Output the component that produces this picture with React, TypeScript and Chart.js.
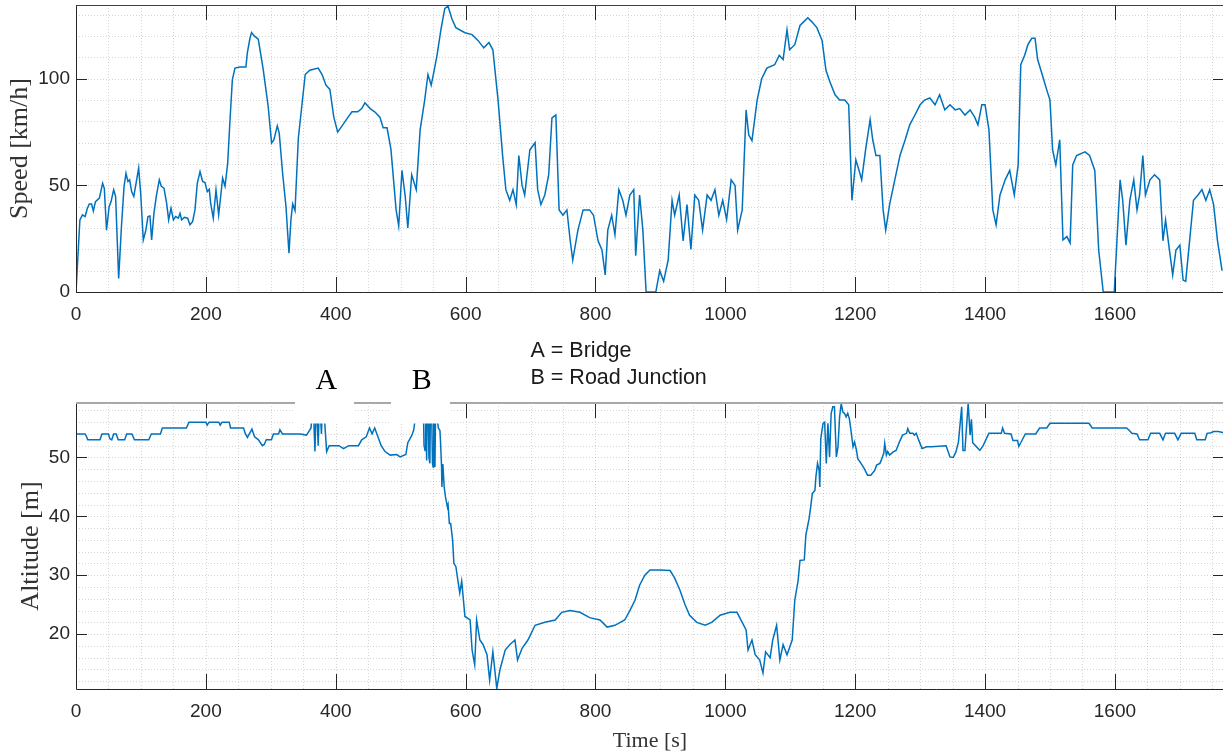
import React, { useEffect, useRef } from "react";
import { Chart, registerables } from "chart.js";
Chart.register(...registerables);

// ---------- data ----------
const speedTime = [
  0, 6, 10, 14, 17.5, 20.5, 24, 26.7, 30, 36, 41, 43.6, 47, 51, 54, 58, 61, 65.7, 70, 74, 77, 80, 82.6, 85.7, 89,
  93.4, 96.5, 99.6, 103.6, 107.7, 110.8, 113.9, 116.5, 120, 124, 128.3, 131.4, 135.5, 139.6, 142.7, 146.3, 150,
  153.5, 157.6, 160.2, 162.7, 166.8, 172, 175.5, 179.6, 183.2, 186.8, 191, 195, 198.6, 202.2, 205.3, 207.4, 211.4,
  215.6, 219.7, 222.8, 225.8, 229.5, 233.6, 237.2, 240.8, 244.8, 252.5, 261.7, 263.8, 267.9, 270.4, 274.5, 280.7,
  288.4, 296, 301.2, 304.8, 310, 313, 318.2, 323.4, 328, 331, 333.7, 337.3, 342.4, 353, 360, 373, 379, 385, 391,
  397, 403, 410, 419, 425, 434, 440, 445, 453, 460, 468, 473, 479, 485, 493, 497, 502, 507, 511, 517, 524, 530,
  537, 542, 547, 551, 556, 562, 568, 573, 579, 585, 599, 610, 619, 628, 636, 642, 650, 657, 662, 668, 673, 678,
  682, 687, 691, 699, 707, 711, 716, 722, 728, 733, 739, 744, 750, 756, 761, 765, 773, 781, 791, 797, 804, 810,
  815, 819, 825, 830, 836, 842, 847, 853, 859, 862, 868, 873, 878, 893, 899, 905, 912, 918, 922, 929, 935, 941,
  947, 953, 959, 965, 972, 978, 984, 990, 996, 1002, 1009, 1015, 1019, 1026, 1032, 1036, 1041, 1049, 1056, 1064,
  1076, 1083, 1089, 1095, 1099, 1107, 1115, 1121, 1127, 1133, 1141, 1149, 1155, 1161, 1169, 1176, 1184, 1190,
  1195, 1201, 1206, 1210, 1216, 1223, 1227, 1232, 1238, 1243, 1247, 1253, 1261, 1269, 1277, 1284, 1292, 1300,
  1307, 1315, 1323, 1330, 1338, 1346, 1354, 1361, 1369, 1377, 1384, 1389, 1395, 1400, 1406, 1412, 1417, 1423,
  1431, 1438, 1445, 1451, 1455, 1461, 1466, 1472, 1477, 1481, 1488, 1495, 1500, 1504, 1509, 1515, 1520, 1526,
  1531, 1535, 1541, 1554, 1561, 1569, 1575, 1582, 1599, 1608, 1612, 1617, 1623, 1629, 1634, 1638, 1643, 1647,
  1654, 1661, 1669, 1674, 1678, 1683, 1689, 1694, 1700, 1705, 1709, 1715, 1721, 1728, 1734, 1740, 1746, 1752,
  1758, 1765,
];
const speedKmh = [
  0, 33.8, 36.2, 35.4, 39.3, 41.3, 41.3, 38, 42.4, 44, 51, 48.6, 29, 40, 42.4, 47.9, 44.8, 6.4, 30.7, 49.4, 55.7,
  51.8, 52.6, 47.1, 44.8, 52.6, 58.1, 46.3, 24.4, 29.1, 35.4, 35.7, 24.4, 36.9, 45.5, 52.6, 49.6, 48.7, 41.6, 33.8,
  39.3, 33.8, 35.4, 34.6, 36.9, 33.8, 35, 34.6, 31.5, 33, 38.5, 51, 56.5, 51.8, 51.3, 47.1, 48.2, 41.6, 34.6, 47.9,
  36.2, 44.8, 53.4, 49.6, 60.4, 80.8, 99.5, 105, 105.5, 105.5, 112, 119, 121.7, 120.1, 118.6, 104.2, 87, 69.8,
  71.4, 77.9, 74.5, 55.7, 40, 18.2, 33.8, 41.3, 38.2, 72.1, 102, 104, 105, 102, 97, 95, 82, 75, 78, 82, 84.5, 84.5,
  86, 88.7, 86, 84.5, 82, 77, 77, 67, 38.5, 31, 57, 45, 30, 55, 48, 76, 90, 102, 97, 103, 111, 123, 133, 134, 128,
  124, 121.6, 120.7, 118, 114.5, 117, 113.6, 90, 64, 48, 43, 48, 41, 64, 50, 45.5, 66.7, 70, 48, 41, 45.5, 55, 81.7,
  83, 38.5, 36, 38.5, 24.4, 15, 29, 38.5, 38.5, 36, 24, 19.7, 8, 29, 36, 26.8, 48, 43, 36, 45.5, 48, 17, 45.5, 29,
  0, 0, 10, 5, 15, 43, 36, 45.5, 24, 41, 20, 45.5, 43, 29, 45.5, 43, 48, 36, 43, 34, 52.6, 50, 29, 38.5, 85.4, 73.7,
  71, 90, 100, 105, 106.6, 111, 109, 123, 113.6, 116, 125, 126.8, 128.6, 126.8, 124, 118, 104, 98.6, 92.5, 90, 90,
  87.8, 43, 62, 57, 52.6, 66.7, 80.8, 71.4, 64, 64, 38.5, 29, 41, 52.6, 64, 71.4, 78.4, 83, 87.8, 90, 91, 87.8,
  92.5, 85.4, 87.8, 85.4, 86, 83, 85.4, 82, 78.4, 87.8, 87.8, 76, 38.5, 31.5, 45.5, 52.6, 57, 45.5, 59.6, 106.6,
  111, 116, 119, 119, 109, 102, 94.8, 90, 66.7, 59.6, 71.4, 24.4, 26, 23, 59.6, 64, 65.7, 64, 57, 19.7, 0, 0, 52.6,
  43, 22, 43, 52.6, 38.5, 45.5, 64, 45.5, 52.6, 55, 52.6, 24, 33.8, 22, 8, 19.7, 22, 5.6, 5, 24, 43, 45.5, 48, 43,
  48, 41, 24, 10,
];

const altTime = [
  0, 14, 16, 18, 37, 40, 50, 52, 55, 58, 62, 65, 75, 78, 86, 90, 112, 116, 130, 133, 170, 174, 200, 202, 205, 220,
  222, 225, 236, 238, 258, 261, 264, 268, 271, 275, 281, 287, 290, 293, 301, 304, 312, 314, 318, 338, 345, 355,
  362, 365, 368, 370, 373, 375, 378, 380, 383, 386, 390, 405, 412, 420, 435, 440, 447, 452, 456, 460, 465, 470,
  476, 484, 494, 499, 508, 511, 517, 520, 523, 527, 533, 535, 536, 537.6, 538.5, 540, 541, 542.5, 543.5, 545,
  546, 547.7, 549, 550, 551, 552.8, 554, 556, 558, 560.5, 561.5, 563, 563.5, 565, 567, 569, 572, 573, 575, 577,
  580, 582, 585, 588, 591, 594, 599, 607, 610, 614, 617, 622, 627, 633, 637, 642, 648, 653, 661, 668, 676, 680,
  687, 696, 707, 722, 738, 748, 761, 776, 791, 807, 818, 830, 845, 853, 861, 868, 876, 884, 899, 915, 922, 930,
  938, 945, 956, 969, 979, 992, 1007, 1018, 1026, 1032, 1035, 1041, 1046, 1053, 1058, 1062, 1069, 1073, 1079,
  1084, 1089, 1095, 1103, 1107, 1112, 1115, 1121.6, 1124, 1129, 1131.5, 1134, 1138, 1139.5, 1142, 1144.5,
  1145.5, 1147, 1150.5, 1153, 1155.5, 1158, 1160.5, 1163, 1165.5, 1168, 1171, 1173.5, 1176, 1178.5, 1181,
  1183.5, 1186, 1188.5, 1191, 1193.5, 1196.7, 1199, 1202, 1204, 1209, 1214, 1219, 1224, 1230, 1233, 1238, 1240,
  1244, 1245.5, 1248, 1250, 1253, 1258, 1263, 1268, 1273, 1279, 1281, 1284, 1289, 1291, 1294, 1298, 1303, 1310,
  1317, 1340, 1346, 1351, 1355, 1359, 1364, 1366, 1369, 1374, 1377, 1379, 1381, 1387, 1392, 1397, 1402, 1406,
  1425, 1427, 1430, 1440, 1443, 1450, 1452, 1455, 1462, 1478, 1484, 1495, 1500, 1560, 1565, 1618, 1623, 1626,
  1634, 1638, 1651, 1655, 1669, 1674, 1678, 1692, 1697, 1702, 1723, 1726, 1739, 1742, 1748, 1752, 1759, 1768,
];
const altM = [
  54, 54, 53.6, 53, 53, 54, 54, 53.2, 53, 54, 54, 53, 53, 54, 54, 53, 53, 54, 54, 55, 55, 56, 56, 55.5, 56, 56,
  55.5, 56, 56, 55, 55, 54, 53.4, 54.2, 54.8, 53.5, 53, 52, 52.2, 53, 53, 54, 54, 54.7, 54, 54, 54, 53.8, 55, 60,
  51, 60, 52, 60, 54, 60, 56, 51, 52, 52, 51.5, 52, 52, 53, 53.5, 55, 54, 55, 53.5, 52, 51, 50.4, 50.5, 50.1,
  50.5, 52.5, 53.7, 54.6, 57, 61, 61, 58, 52, 51.2, 60, 49.5, 60, 58, 50, 49, 60, 58, 49, 48.4, 58, 48.4, 60, 57,
  55, 54.6, 52.4, 48.4, 45, 48.9, 45, 43.3, 41.6, 42, 38.8, 38.8, 36, 32, 31.5, 29.2, 27, 29, 23, 22.4, 17.3,
  14.8, 22.4, 19, 18.2, 16.5, 12.2, 17, 10.8, 14, 17.3, 18.2, 19, 15.6, 17.6, 19, 21.5, 22, 22.4, 23.7, 24, 23.7,
  22.8, 22.4, 21.2, 21.5, 22.4, 24, 25.8, 28.3, 30, 30.9, 30.9, 30.8, 29.5, 27.5, 25, 23.2, 22, 21.5, 22, 23.2,
  23.7, 23.7, 22, 20.7, 17.3, 19, 16.5, 15.6, 13.4, 17, 16, 19, 21.5, 15.6, 18.2, 16.5, 19, 25.8, 29, 32.5, 32.6,
  36.8, 39.6, 41.6, 43.9, 44.4, 46.7, 49, 47.8, 45, 53.2, 55.8, 56, 49, 55.8, 50.1, 57.5, 58.6, 58.6, 50.1, 51.8,
  56.9, 59.2, 57.7, 57.5, 56.9, 57.5, 56.6, 54.6, 51.8, 52.6, 51.2, 49.8, 49, 48.1, 47, 47, 47.8, 48.7, 49, 49.5,
  50.7, 52.4, 50.4, 51, 50.4, 50.9, 51.2, 52.6, 53.8, 54.1, 54.9, 54.1, 54.1, 53.8, 54.1, 52.9, 51.5, 51.8, 51.8,
  52, 50.1, 50, 50.9, 52.6, 58.6, 51.2, 51.2, 59.2, 53.8, 56.5, 52.5, 51.8, 51.2, 52, 53.2, 54.1, 54.1, 55, 54.1,
  54, 52.9, 52.9, 51.9, 52.5, 54, 54, 55, 55, 55.8, 55.8, 55, 55, 54.5, 54.1, 54, 53, 53, 54.1, 54.1, 53, 54.1,
  54.1, 53, 54.1, 54.1, 53, 53, 54.1, 54.2, 54.4, 54.4, 54.2,
];

const timeTicks = [0, 200, 400, 600, 800, 1000, 1200, 1400, 1600];
const speedTicks = [0, 50, 100];
const altTicks = [20, 30, 40, 50];
const markerLabels = ["A", "B"];
const markerTimes = [384, 531];
const noteLines = ["A = Bridge", "B = Road Junction"];
const noteTime = 700;

const TIME_MAX = 1768;
const SPEED_MAX = 134.6;
const ALT_MIN = 10.68;
const ALT_MAX = 59.25;

const LINE = "#0072BD";
const TICK_FONT = { family: '"Liberation Sans", Arial, sans-serif', size: 19 };
const SERIF = '"Liberation Serif", "Times New Roman", serif';

type AxesOpts = {
  xMinor: number;
  yMinor: number;
  xMajor: number[];
  yMajor: number[];
  topColor: string;
  topWidth: number;
};

function matlabAxes(o: AxesOpts) {
  return {
    id: "matlabAxes",
    beforeDatasetsDraw(chart: any) {
      const { ctx, chartArea: a, scales } = chart;
      const xs = scales.x;
      const ys = scales.y;
      ctx.save();
      ctx.strokeStyle = "rgba(0,0,0,0.16)";
      ctx.lineWidth = 1;
      ctx.setLineDash([1, 2]);
      ctx.beginPath();
      for (let v = Math.ceil(xs.min / o.xMinor) * o.xMinor; v <= xs.max + 1e-9; v += o.xMinor) {
        const p = Math.round(xs.getPixelForValue(v)) + 0.5;
        ctx.moveTo(p, a.top);
        ctx.lineTo(p, a.bottom);
      }
      for (let v = Math.ceil(ys.min / o.yMinor) * o.yMinor; v <= ys.max + 1e-9; v += o.yMinor) {
        const p = Math.round(ys.getPixelForValue(v)) + 0.5;
        ctx.moveTo(a.left, p);
        ctx.lineTo(a.right, p);
      }
      ctx.stroke();
      ctx.restore();
    },
    afterDatasetsDraw(chart: any) {
      const { ctx, chartArea: a, scales } = chart;
      const xs = scales.x;
      const ys = scales.y;
      ctx.save();
      ctx.setLineDash([]);
      ctx.strokeStyle = "#262626";
      ctx.lineWidth = 1;
      ctx.beginPath();
      ctx.moveTo(a.left + 0.5, a.top);
      ctx.lineTo(a.left + 0.5, a.bottom + 0.5);
      ctx.lineTo(a.right - 0.5, a.bottom + 0.5);
      ctx.lineTo(a.right - 0.5, a.top);
      for (const v of o.xMajor) {
        const p = Math.round(xs.getPixelForValue(v)) + 0.5;
        ctx.moveTo(p, a.bottom);
        ctx.lineTo(p, a.bottom - 15);
        ctx.moveTo(p, a.top);
        ctx.lineTo(p, a.top + 15);
      }
      for (const v of o.yMajor) {
        const p = Math.round(ys.getPixelForValue(v)) + 0.5;
        ctx.moveTo(a.left, p);
        ctx.lineTo(a.left + 11, p);
        ctx.moveTo(a.right, p);
        ctx.lineTo(a.right - 11, p);
      }
      ctx.stroke();
      ctx.strokeStyle = o.topColor;
      ctx.lineWidth = o.topWidth;
      ctx.beginPath();
      const ty = o.topWidth % 2 === 1 ? a.top + 0.5 : a.top;
      ctx.moveTo(a.left, ty);
      ctx.lineTo(a.right, ty);
      ctx.stroke();
      ctx.restore();
    },
  };
}

const annotations = {
  id: "annotations",
  afterDraw(chart: any) {
    const { ctx, chartArea: a, scales } = chart;
    const xs = scales.x;
    ctx.save();
    markerTimes.forEach((t, i) => {
      const cx = xs.getPixelForValue(t);
      ctx.fillStyle = "#ffffff";
      ctx.fillRect(Math.round(cx) - 30, a.top - 58, 59, 78.5);
      ctx.fillStyle = "#000000";
      ctx.font = `30px ${SERIF}`;
      ctx.textAlign = "center";
      ctx.textBaseline = "alphabetic";
      ctx.fillText(markerLabels[i], cx + 1, a.top - 14);
    });
    ctx.fillStyle = "#1a1a1a";
    ctx.font = '21.5px "Liberation Sans", Arial, sans-serif';
    ctx.textAlign = "left";
    ctx.textBaseline = "alphabetic";
    const nx = xs.getPixelForValue(noteTime);
    noteLines.forEach((s, i) => ctx.fillText(s, nx, a.top - 46 + i * 27));
    ctx.restore();
  },
};

const fixedTicks = (values: number[]) => (s: any) => {
  s.ticks = values.map((v) => ({ value: v }));
};

export default function App() {
  const topRef = useRef<HTMLCanvasElement>(null);
  const botRef = useRef<HTMLCanvasElement>(null);

  useEffect(() => {
    const xAxis = (height: number, title?: string) => ({
      type: "linear" as const,
      min: 0,
      max: TIME_MAX,
      grid: { display: false, drawTicks: false },
      border: { display: false },
      afterBuildTicks: fixedTicks(timeTicks),
      ticks: {
        autoSkip: false,
        maxRotation: 0,
        minRotation: 0,
        padding: 11,
        color: "#262626",
        font: TICK_FONT,
        callback: (v: any) => String(v),
      },
      title: title
        ? { display: true, text: title, color: "#333333", font: { family: SERIF, size: 22 }, padding: { top: 0, bottom: 1 } }
        : { display: false },
      afterFit: (s: any) => {
        s.height = height;
        s.paddingLeft = 0;
        s.paddingRight = 0;
      },
    });

    const yAxis = (min: number, max: number, ticks: number[], title: string, titlePad: number) => ({
      type: "linear" as const,
      min,
      max,
      grid: { display: false, drawTicks: false },
      border: { display: false },
      afterBuildTicks: fixedTicks(ticks),
      ticks: { autoSkip: false, padding: 6, color: "#262626", font: TICK_FONT, callback: (v: any) => String(v) },
      title: { display: true, text: title, color: "#333333", font: { family: SERIF, size: 26 }, padding: { top: titlePad, bottom: 0 } },
      afterFit: (s: any) => {
        s.width = 76;
        s.paddingTop = 0;
        s.paddingBottom = 0;
      },
    });

    const top = new Chart(topRef.current!, {
      type: "line",
      data: {
        datasets: [
          {
            data: speedTime.map((t, i) => ({ x: t, y: speedKmh[i] })),
            borderColor: LINE,
            borderWidth: 1.5,
            pointRadius: 0,
            tension: 0,
            fill: false,
          },
        ],
      },
      options: {
        animation: false,
        responsive: false,
        devicePixelRatio: 1,
        layout: { padding: { left: 0, top: 5, right: 16, bottom: 0 } },
        plugins: { legend: { display: false }, tooltip: { enabled: false } },
        scales: {
          x: xAxis(38) as any,
          y: yAxis(0, SPEED_MAX, speedTicks, "Speed [km/h]", 5) as any,
        },
      },
      plugins: [
        matlabAxes({ xMinor: 50, yMinor: 10, xMajor: timeTicks, yMajor: speedTicks, topColor: "#404040", topWidth: 1 }),
      ],
    });

    const bot = new Chart(botRef.current!, {
      type: "line",
      data: {
        datasets: [
          {
            data: altTime.map((t, i) => ({ x: t, y: altM[i] })),
            borderColor: LINE,
            borderWidth: 1.5,
            pointRadius: 0,
            tension: 0,
            fill: false,
          },
        ],
      },
      options: {
        animation: false,
        responsive: false,
        devicePixelRatio: 1,
        layout: { padding: { left: 0, top: 73, right: 16, bottom: 0 } },
        plugins: { legend: { display: false }, tooltip: { enabled: false } },
        scales: {
          x: xAxis(66, "Time [s]") as any,
          y: yAxis(ALT_MIN, ALT_MAX, altTicks, "Altitude [m]", 16) as any,
        },
      },
      plugins: [
        matlabAxes({ xMinor: 50, yMinor: 2, xMajor: timeTicks, yMajor: altTicks, topColor: "#a8a8a8", topWidth: 2 }),
        annotations,
      ],
    });

    return () => {
      top.destroy();
      bot.destroy();
    };
  }, []);

  return (
    <div style={{ position: "absolute", left: 0, top: 0, width: 1223, height: 755, overflow: "hidden", background: "#ffffff" }}>
      <div style={{ position: "absolute", left: 0, top: 0, width: 1240, height: 330 }}>
        <canvas ref={topRef} width={1240} height={330} style={{ width: 1240, height: 330, display: "block" }} />
      </div>
      <div style={{ position: "absolute", left: 0, top: 330, width: 1240, height: 425 }}>
        <canvas ref={botRef} width={1240} height={425} style={{ width: 1240, height: 425, display: "block" }} />
      </div>
    </div>
  );
}
